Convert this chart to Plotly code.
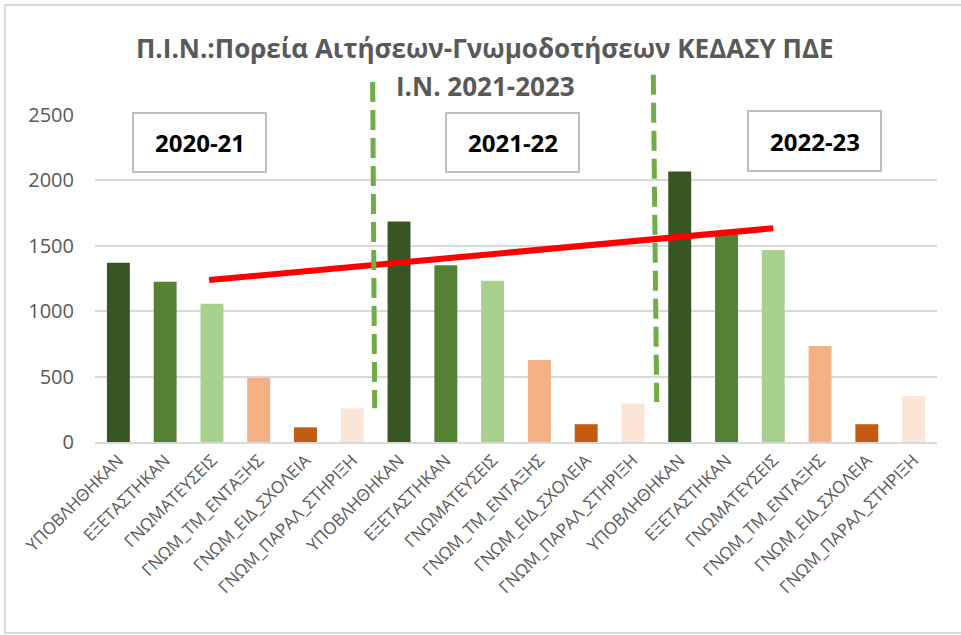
import plotly.graph_objects as go

# Application categories and school years
categories = ["ΥΠΟΒΛΗΘΗΚΑΝ", "ΕΞΕΤΑΣΤΗΚΑΝ", "ΓΝΩΜΑΤΕΥΣΕΙΣ",
              "ΓΝΩΜ_ΤΜ_ΕΝΤΑΞΗΣ", "ΓΝΩΜ_ΕΙΔ_ΣΧΟΛΕΙΑ", "ΓΝΩΜ_ΠΑΡΑΛ_ΣΤΗΡΙΞΗ"]
years = ["2020-21", "2021-22", "2022-23"]

values_2020_21 = [1370, 1225, 1057, 490, 112, 256]
values_2021_22 = [1685, 1351, 1233, 626, 136, 294]
values_2022_23 = [2068, 1600, 1468, 733, 136, 352]

bar_colors = ["#375623", "#548235", "#A9D18E", "#F4B183", "#C55A11", "#FBE5D6"]

# Trend line endpoints (x in category slots, y in values)
trend_x = [1.94, 14.0]
trend_y = [1238, 1634]

all_values = values_2020_21 + values_2021_22 + values_2022_23
labels = categories * len(years)
xpos = list(range(len(all_values)))
colors = bar_colors * len(years)

fig = go.Figure()
fig.add_trace(go.Bar(
    x=xpos, y=all_values,
    marker=dict(color=colors, line=dict(width=0)),
    width=0.49,
    hoverinfo="y",
))

# Plot-area geometry in pixels, used to place the frame and boxes
W, H = 961, 635
L, R, T, B = 95, 24, 115, 193
pw, ph = W - L - R, H - T - B


def px_x(p):
    return (p - L) / pw


def px_y(p):
    return (H - B - p) / ph


def slot_x(s):
    # category slot -> paper x
    return (s + 0.5) / 18


def val_y(v):
    # value -> paper y
    return v / 2500


fig.update_layout(
    width=W, height=H,
    margin=dict(l=L, r=R, t=T, b=B),
    paper_bgcolor="white", plot_bgcolor="white",
    showlegend=False,
    bargap=0.5,
    font=dict(family="Open Sans", color="#595959"),
    xaxis=dict(
        range=[-0.5, 17.5],
        tickmode="array", tickvals=xpos, ticktext=labels,
        tickangle=-45,
        tickfont=dict(size=17, color="#595959"),
        showgrid=False, zeroline=False,
        showline=True, linecolor="#D9D9D9", linewidth=1.5,
        ticks="",
    ),
    yaxis=dict(
        range=[0, 2500],
        tickvals=[0, 500, 1000, 1500, 2000, 2500],
        tickfont=dict(size=20, color="#595959"),
        gridcolor="#D9D9D9", gridwidth=1.5,
        zeroline=False, showline=False,
        ticklabelstandoff=20,
    ),
)

# Chart title
fig.add_annotation(
    xref="paper", yref="paper", x=px_x(485), y=px_y(48),
    text="<b>Π.Ι.Ν.:Πορεία Αιτήσεων-Γνωμοδοτήσεων ΚΕΔΑΣΥ ΠΔΕ</b>",
    showarrow=False, font=dict(size=26, color="#595959", family="Open Sans"),
    xanchor="center", yanchor="middle",
)
fig.add_annotation(
    xref="paper", yref="paper", x=px_x(485), y=px_y(86),
    text="<b>Ι.Ν. 2021-2023</b>",
    showarrow=False, font=dict(size=26, color="#595959", family="Open Sans"),
    xanchor="center", yanchor="middle",
)

# Dashed separators between school years
fig.add_shape(type="line", xref="paper", yref="paper",
              x0=slot_x(5.436), y0=val_y(2753), x1=slot_x(5.479), y1=val_y(258),
              line=dict(color="#70AD47", width=5, dash="20px,8px"), layer="above")
fig.add_shape(type="line", xref="paper", yref="paper",
              x0=slot_x(11.435), y0=val_y(2807), x1=slot_x(11.508), y1=val_y(306),
              line=dict(color="#70AD47", width=5, dash="20px,8px"), layer="above")

# Year boxes
boxes = [(133, 113, 266, 172), (446, 113, 579, 172), (748, 111, 881, 171)]
for (x0, y0, x1, y1), yr in zip(boxes, years):
    fig.add_shape(type="rect", xref="paper", yref="paper",
                  x0=px_x(x0), x1=px_x(x1), y0=px_y(y1), y1=px_y(y0),
                  line=dict(color="#BFBFBF", width=2), fillcolor="white", layer="above")
    fig.add_annotation(xref="paper", yref="paper",
                       x=px_x((x0 + x1) / 2), y=px_y((y0 + y1) / 2),
                       text="<b>%s</b>" % yr, showarrow=False,
                       font=dict(size=24, color="#000000", family="Open Sans"),
                       xanchor="center", yanchor="middle")

# Trend line
fig.add_trace(go.Scatter(x=trend_x, y=trend_y, mode="lines",
                         line=dict(color="#FF0000", width=6), hoverinfo="skip",
                         cliponaxis=False))

# Outer frame (left, top, bottom edges)
fig.add_shape(type="line", xref="paper", yref="paper",
              x0=px_x(5), x1=px_x(5), y0=px_y(634), y1=px_y(5),
              line=dict(color="#D9D9D9", width=2))
fig.add_shape(type="line", xref="paper", yref="paper",
              x0=px_x(5), x1=px_x(961), y0=px_y(5), y1=px_y(5),
              line=dict(color="#D9D9D9", width=2))
fig.add_shape(type="line", xref="paper", yref="paper",
              x0=px_x(5), x1=px_x(961), y0=px_y(633), y1=px_y(633),
              line=dict(color="#D9D9D9", width=2))

fig.write_html("out.html")
